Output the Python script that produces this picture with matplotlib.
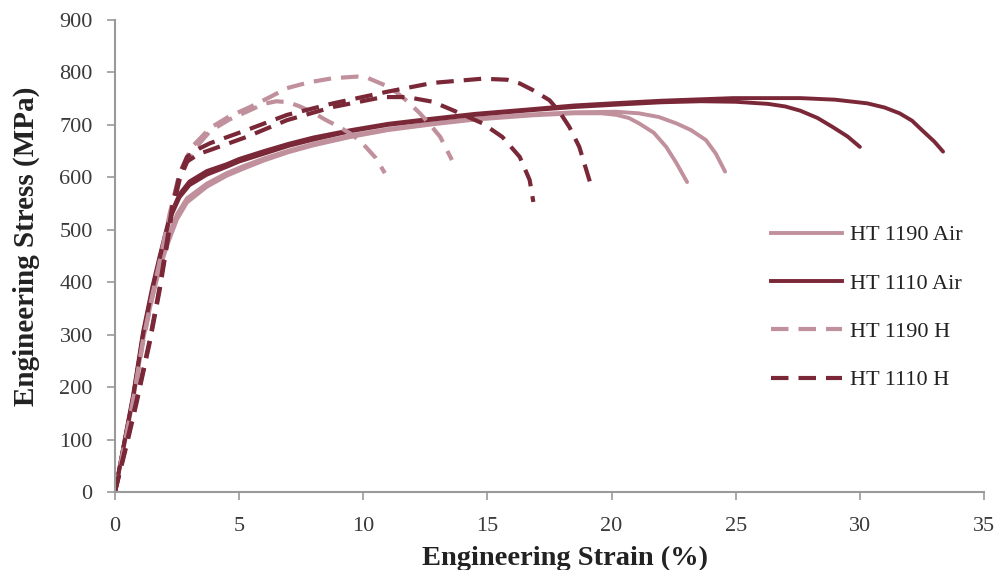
import matplotlib
matplotlib.use("Agg")
import matplotlib.pyplot as plt
from matplotlib.lines import Line2D

LIGHT = "#C0909C"
DARK = "#7A2838"

# HT 1190 Air (two specimens)
s_1190air_a = [0, 0.4, 0.73, 1.13, 1.5, 1.8, 2.1, 2.5, 2.9, 3.7, 4.5, 5.15, 6, 7, 8, 9.5, 11, 12.8, 14.5, 16.8, 18.5, 19.6, 20.2, 20.7, 21.1, 21.7, 22.2, 22.6, 23.04]
t_1190air_a = [0, 95, 175, 290, 370, 425, 470, 520, 552, 582, 603, 616, 632, 648, 661, 677, 690, 701, 710, 718, 722, 722, 719, 713, 703, 685, 658, 628, 591]
s_1190air_b = [0, 0.4, 0.73, 1.13, 1.5, 1.8, 2.1, 2.5, 2.9, 3.7, 4.5, 5.15, 6, 7, 8, 9.5, 11, 12.8, 14.5, 16.8, 18.5, 20.2, 21.1, 21.9, 22.6, 23.2, 23.8, 24.2, 24.57]
t_1190air_b = [0, 100, 180, 300, 380, 435, 482, 530, 560, 588, 608, 621, 636, 651, 664, 680, 692, 703, 712, 720, 724, 725, 722, 715, 703, 690, 671, 645, 611]

# HT 1110 Air (two specimens)
s_1110air_a = [0, 0.4, 0.73, 1.13, 1.5, 1.8, 2.2, 2.6, 3.0, 3.7, 4.5, 5.0, 6, 7, 8, 9.5, 11, 12.8, 14.5, 16.8, 18.5, 20, 22, 23.6, 25, 26.3, 27.0, 27.6, 28.3, 28.9, 29.5, 30.0]
t_1110air_a = [0, 100, 180, 300, 385, 445, 520, 562, 585, 605, 620, 630, 645, 660, 672, 688, 700, 710, 719, 728, 734, 738, 743, 745, 744, 740, 735, 727, 713, 696, 678, 658]
s_1110air_b = [0, 0.4, 0.73, 1.13, 1.5, 1.8, 2.2, 2.6, 3.0, 3.7, 4.5, 5.0, 6, 7, 8, 9.5, 11, 12.8, 14.5, 16.8, 18.5, 20, 22, 24.9, 27.6, 29, 30.3, 31.0, 31.6, 32.1, 32.5, 33.0, 33.35]
t_1110air_b = [0, 102, 185, 305, 390, 450, 525, 568, 592, 612, 625, 635, 650, 664, 676, 690, 702, 712, 721, 730, 737, 741, 746, 751, 751, 748, 741, 733, 722, 708, 690, 668, 649]

# HT 1190 H (two specimens)
s_1190h_a = [0, 0.4, 0.73, 1.13, 1.5, 1.8, 2.2, 2.6, 3.1, 3.83, 4.6, 5.44, 6.2, 6.93, 7.8, 8.78, 9.75, 10.2, 10.55, 11.0, 11.36, 11.8, 12.28, 12.7, 13.1, 13.57]
t_1190h_a = [0, 95, 175, 290, 375, 440, 530, 608, 658, 694, 716, 734, 752, 770, 781, 789, 792, 789, 782, 773, 761, 744, 722, 700, 677, 633]
s_1190h_b = [0, 0.4, 0.73, 1.13, 1.5, 1.8, 2.2, 2.6, 3.1, 3.83, 4.6, 5.44, 6.0, 6.5, 7.0, 7.45, 8.0, 8.5, 9.0, 9.46, 9.8, 10.1, 10.5, 10.87]
t_1190h_b = [0, 92, 170, 285, 370, 432, 520, 598, 648, 688, 710, 728, 740, 745, 743, 735, 723, 709, 697, 684, 672, 658, 637, 608]

# HT 1110 H (two specimens)
s_1110h_a = [0, 0.2, 0.5, 0.87, 1.4, 1.8, 2.1, 2.3, 2.6, 2.9, 3.4, 3.83, 5.3, 6.93, 8.78, 10.95, 12.8, 14.8, 15.8, 16.3, 16.8, 17.5, 17.9, 18.3, 18.7, 19.13]
t_1110h_a = [0, 40, 100, 175, 290, 391, 480, 543, 605, 639, 655, 665, 690, 719, 741, 763, 780, 788, 786, 779, 767, 747, 725, 696, 658, 591]
s_1110h_b = [0, 0.2, 0.5, 0.87, 1.4, 1.8, 2.1, 2.3, 2.6, 2.9, 3.4, 3.83, 5.3, 6.93, 8.78, 10.8, 11.76, 12.8, 13.6, 14.8, 15.6, 16.3, 16.7, 16.85]
t_1110h_b = [0, 38, 95, 170, 285, 385, 472, 535, 595, 630, 645, 652, 677, 709, 734, 753, 753, 744, 728, 703, 677, 639, 595, 553]

x_ticks = [0, 5, 10, 15, 20, 25, 30, 35]
y_ticks = [0, 100, 200, 300, 400, 500, 600, 700, 800, 900]
labels = ["HT 1190 Air", "HT 1110 Air", "HT 1190 H", "HT 1110 H"]

plt.rcParams["font.family"] = ["Liberation Serif", "DejaVu Serif"]

fig = plt.figure(figsize=(9.98, 5.70), dpi=100)
ax = fig.add_axes([0.1152, 0.1368, 0.8708, 0.8282])

solid_lw = 2.8
dash_lw = 3.0
dash = (0, (4.2, 2.4))

ax.plot(s_1190air_a, t_1190air_a, color=LIGHT, lw=solid_lw, solid_capstyle="round")
ax.plot(s_1190air_b, t_1190air_b, color=LIGHT, lw=solid_lw, solid_capstyle="round")
ax.plot(s_1110air_a, t_1110air_a, color=DARK, lw=solid_lw, solid_capstyle="round")
ax.plot(s_1110air_b, t_1110air_b, color=DARK, lw=solid_lw, solid_capstyle="round")
ax.plot(s_1190h_a, t_1190h_a, color=LIGHT, lw=dash_lw, linestyle=dash)
ax.plot(s_1190h_b, t_1190h_b, color=LIGHT, lw=dash_lw, linestyle=dash)
ax.plot(s_1110h_a, t_1110h_a, color=DARK, lw=dash_lw, linestyle=dash)
ax.plot(s_1110h_b, t_1110h_b, color=DARK, lw=dash_lw, linestyle=dash)

ax.set_xlim(0, 35)
ax.set_ylim(0, 900)
ax.set_xticks(x_ticks)
ax.set_yticks(y_ticks)
ax.set_xticklabels([str(v) for v in x_ticks])
ax.set_yticklabels([str(v) for v in y_ticks])

for side in ["top", "right"]:
    ax.spines[side].set_visible(False)
for side in ["left", "bottom"]:
    ax.spines[side].set_color("#9A9A9A")
    ax.spines[side].set_linewidth(1.5)
ax.tick_params(axis="both", direction="out", length=6, width=1.2, color="#9A9A9A",
               labelsize=16, labelcolor="#3A3A3A")
ax.tick_params(axis="x", pad=12)
ax.tick_params(axis="y", pad=10)

ax.set_xlabel("Engineering Strain (%)", fontsize=20.5, fontweight="bold", color="#222222", labelpad=7)
ax.xaxis.label.set_x(0.518)
ax.set_ylabel("Engineering Stress (MPa)", fontsize=21, fontweight="bold", color="#222222", labelpad=14)
ax.yaxis.label.set_y(0.52)

handles = [
    Line2D([], [], color=LIGHT, lw=solid_lw),
    Line2D([], [], color=DARK, lw=solid_lw),
    Line2D([], [], color=LIGHT, lw=dash_lw, linestyle=dash),
    Line2D([], [], color=DARK, lw=dash_lw, linestyle=dash),
]
leg = ax.legend(handles, labels, loc="upper left", bbox_to_anchor=(0.745, 0.585),
                frameon=False, fontsize=16, handlelength=3.2, handletextpad=0.35,
                labelspacing=1.25, borderaxespad=0)
for t in leg.get_texts():
    t.set_color("#222222")

fig.savefig("out.png", dpi=100)
